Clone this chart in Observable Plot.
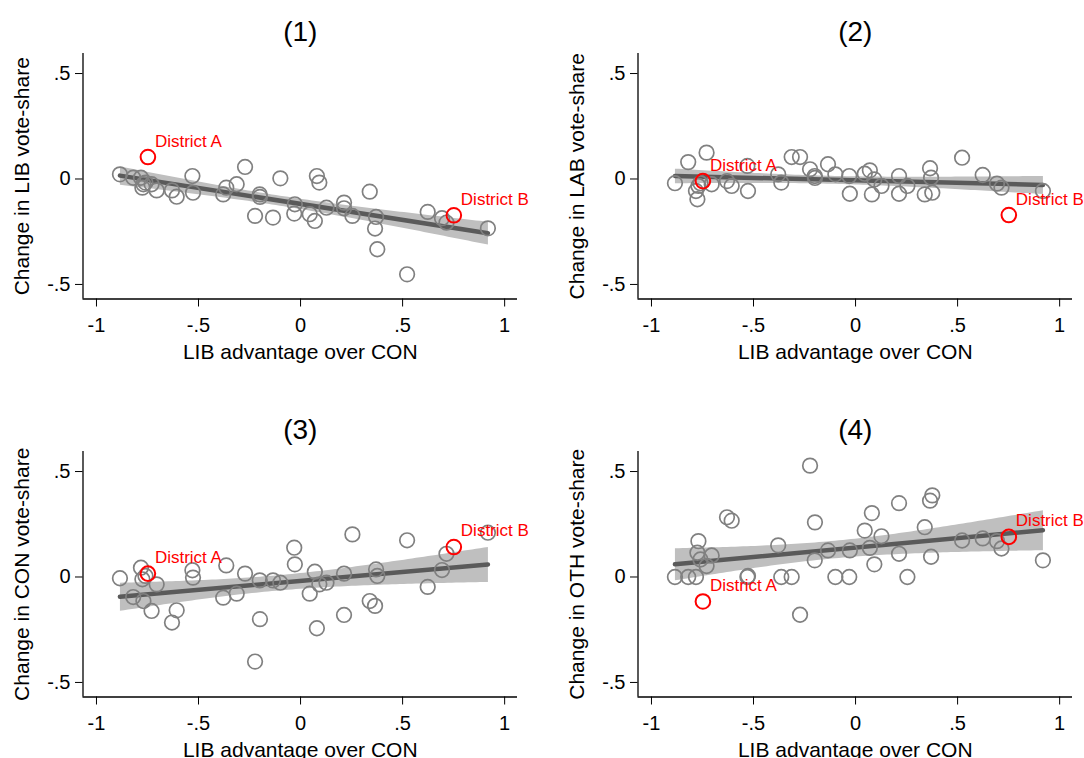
<!DOCTYPE html>
<html>
<head>
<meta charset="utf-8">
<script src="https://cdn.jsdelivr.net/npm/d3@7"></script>
<script src="https://cdn.jsdelivr.net/npm/@observablehq/plot@0.6"></script>
<style>
  html, body { margin: 0; padding: 0; background: #fff; overflow: hidden; }
  #wrap { position: relative; width: 1084px; height: 758px; overflow: hidden; background: #fff; }
  .panel { position: absolute; width: 542px; height: 390px; }
  .panel svg { max-width: none !important; }
</style>
</head>
<body>
<div id="wrap"></div>
<script>
// LIB advantage over CON (same districts in every panel)
const libAdvantage = [-0.885, -0.82, -0.782, -0.775, -0.77, -0.76, -0.748, -0.73, -0.705, -0.63,
  -0.607, -0.53, -0.527, -0.379, -0.364, -0.313, -0.272, -0.223, -0.2, -0.199,
  -0.135, -0.099, -0.031, -0.028, 0.045, 0.07, 0.08, 0.092, 0.127, 0.213,
  0.213, 0.254, 0.339, 0.365, 0.37, 0.376, 0.522, 0.623, 0.693, 0.715,
  0.751, 0.918];

const changeLIB = [0.022, 0.006, 0.006, -0.041, -0.025, -0.017, 0.104, -0.025, -0.054, -0.054,
  -0.084, 0.014, -0.065, -0.073, -0.041, -0.025, 0.057, -0.175, -0.073, -0.085,
  -0.183, 0.003, -0.164, -0.12, -0.167, -0.199, 0.014, -0.017, -0.136, -0.112,
  -0.139, -0.175, -0.06, -0.235, -0.18, -0.333, -0.452, -0.156, -0.186, -0.207,
  -0.172, -0.234];

const changeLAB = [-0.02, 0.08, -0.057, -0.096, -0.033, -0.02, -0.01, 0.125, -0.025, -0.01,
  -0.033, 0.062, -0.057, 0.022, -0.017, 0.104, 0.104, 0.046, 0.014, 0.005,
  0.07, 0.022, 0.014, -0.07, 0.025, 0.041, -0.073, -0.002, -0.033, 0.014,
  -0.07, -0.033, -0.073, 0.051, 0.006, -0.065, 0.101, 0.019, -0.022, -0.041,
  -0.171, -0.057];

const changeCON = [-0.006, -0.095, 0.044, -0.011, -0.114, 0.005, 0.016, -0.161, -0.035, -0.216,
  -0.158, 0.032, -0.003, -0.098, 0.055, -0.079, 0.016, -0.401, -0.016, -0.2,
  -0.016, -0.027, 0.139, 0.06, -0.079, 0.025, -0.243, -0.035, -0.027, 0.016,
  -0.18, 0.202, -0.114, -0.137, 0.036, 0.005, 0.174, -0.047, 0.033, 0.11,
  0.142, 0.21];

const changeOTH = [0, 0, 0, 0.115, 0.17, 0.083, -0.116, 0.052, 0.102, 0.283,
  0.267, 0, 0.005, 0.15, 0, 0, -0.179, 0.528, 0.079, 0.259,
  0.126, 0, 0, 0.126, 0.22, 0.138, 0.303, 0.06, 0.193, 0.35,
  0.11, 0, 0.236, 0.362, 0.096, 0.387, 0.173, 0.183, 0.17, 0.135,
  0.19, 0.079];

const districtNames = ["District A", "District B"];
const districtIndex = [6, 40];

const panelTitles = ["(1)", "(2)", "(3)", "(4)"];
const yTitles = ["Change in LIB vote-share", "Change in LAB vote-share",
                 "Change in CON vote-share", "Change in OTH vote-share"];
const xTitle = "LIB advantage over CON";
const panelSeries = [changeLIB, changeLAB, changeCON, changeOTH];

const xTicks = [-1, -0.5, 0, 0.5, 1];
const yTicks = [-0.5, 0, 0.5];
const xDomain = [-1.066, 1.063];
const yDomain = [-0.569, 0.595];

const fmt = d => d === 0 ? "0" : String(d).replace("0.", ".");
const FONT = "'Liberation Sans', Arial, Helvetica, sans-serif";

const wrap = document.getElementById("wrap");
const positions = [[0, 0], [555, 0], [0, 397.5], [555, 397.5]];

panelSeries.forEach((ys, p) => {
  const rows = libAdvantage.map((x, i) => ({
    x, y: ys[i],
    name: districtIndex.includes(i) ? districtNames[districtIndex.indexOf(i)] : ""
  }));
  const others = rows.filter(r => r.name === "");
  const districts = rows.filter(r => r.name !== "");

  const chart = Plot.plot({
    width: 542,
    height: 390,
    marginLeft: 82.5,
    marginRight: 25,
    marginTop: 53,
    marginBottom: 91.5,
    style: { fontFamily: FONT, fontSize: "20px", color: "#000", background: "transparent", overflow: "visible", maxWidth: "none" },
    x: { domain: xDomain },
    y: { domain: yDomain },
    marks: [
      Plot.linearRegressionY(rows, { x: "x", y: "y", fill: "#bfbfbf", fillOpacity: 1, stroke: "#5a5a5a", strokeWidth: 4.5 }),
      Plot.ruleX([xDomain[0]], { stroke: "#000", strokeWidth: 1.3 }),
      Plot.ruleY([yDomain[0]], { stroke: "#000", strokeWidth: 1.3 }),
      Plot.axisX({ ticks: xTicks, tickFormat: fmt, tickSize: 8, tickPadding: 10.5, label: null, fontSize: 20 }),
      Plot.axisY({ ticks: yTicks, tickFormat: fmt, tickSize: 7.5, tickPadding: 5, label: null, fontSize: 20 }),
      Plot.dot(others, { x: "x", y: "y", r: 7.3, stroke: "#808080", strokeWidth: 1.7, fill: "none" }),
      Plot.dot(districts, { x: "x", y: "y", r: 7.3, stroke: "#ff0000", strokeWidth: 2, fill: "none" }),
      Plot.text(districts, { x: "x", y: "y", text: "name", dx: 7, dy: -16, textAnchor: "start", fill: "#ff0000", fontSize: 17 }),
      Plot.text([panelTitles[p]], { frameAnchor: "top", dy: -21, textAnchor: "middle", lineAnchor: "middle", fontSize: 28 }),
      Plot.text([xTitle], { frameAnchor: "bottom", dy: 53.5, textAnchor: "middle", lineAnchor: "middle", fontSize: 21 }),
      Plot.text([yTitles[p]], { frameAnchor: "left", dx: -60.5, rotate: -90, textAnchor: "middle", lineAnchor: "middle", fontSize: 21 })
    ]
  });
  chart.style.maxWidth = "none";
  const div = document.createElement("div");
  div.className = "panel";
  div.style.left = positions[p][0] + "px";
  div.style.top = positions[p][1] + "px";
  div.appendChild(chart);
  wrap.appendChild(div);
});
</script>
</body>
</html>
